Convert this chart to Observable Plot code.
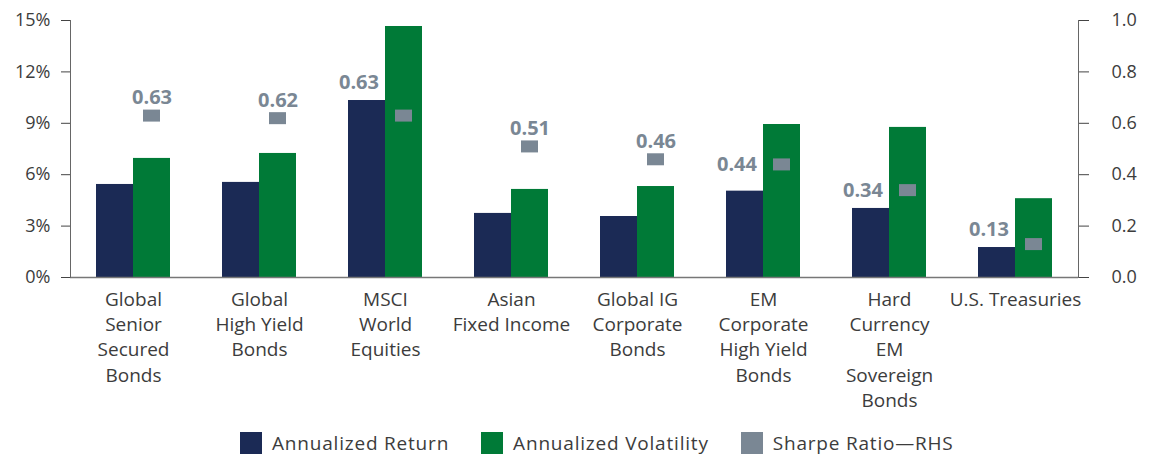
<!DOCTYPE html>
<html>
<head>
<meta charset="utf-8">
<script src="https://cdn.jsdelivr.net/npm/d3@7"></script>
<script src="https://cdn.jsdelivr.net/npm/@observablehq/plot@0.6"></script>
<style>
  html, body { margin: 0; padding: 0; background: #fff; overflow: hidden; }
  body { width: 1149px; height: 455px; font-family: "Open Sans", sans-serif; }
  #legend { display: flex; justify-content: flex-start; align-items: center; gap: 32px; margin-top: 15px; padding-left: 240px; font-size: 19px; letter-spacing: 0.8px; color: #3c3c3c; }
  .item { display: flex; align-items: center; gap: 10px; }
  .sw { width: 22px; height: 22px; display: inline-block; }
</style>
</head>
<body>
<div id="chart"></div>
<div id="legend"></div>
<script>
const categories = [
  "Global\nSenior\nSecured\nBonds",
  "Global\nHigh Yield\nBonds",
  "MSCI\nWorld\nEquities",
  "Asian\nFixed Income",
  "Global IG\nCorporate\nBonds",
  "EM\nCorporate\nHigh Yield\nBonds",
  "Hard\nCurrency\nEM\nSovereign\nBonds",
  "U.S. Treasuries"
];
const annualizedReturn = [5.43, 5.55, 10.33, 3.74, 3.56, 5.04, 4.03, 1.75];
const annualizedVolatility = [6.95, 7.24, 14.65, 5.14, 5.31, 8.93, 8.76, 4.6];
const sharpeRatio = [0.63, 0.62, 0.63, 0.51, 0.46, 0.44, 0.34, 0.13];
const seriesNames = ["Annualized Return", "Annualized Volatility", "Sharpe Ratio\u2014RHS"];
const seriesColors = ["#1b2a55", "#007a37", "#7a8794"];
const leftTicks = [0, 3, 6, 9, 12, 15];
const rightTicks = [0, 0.2, 0.4, 0.6, 0.8, 1.0];
const leftMax = 15, rightMax = 1.0;
const k = leftMax / rightMax;

const bars = categories.flatMap((c, i) => [
  {category: c, series: seriesNames[0], value: annualizedReturn[i]},
  {category: c, series: seriesNames[1], value: annualizedVolatility[i]}
]);
const sharpe = categories.map((c, i) => ({
  category: c, sharpe: sharpeRatio[i], ret: annualizedReturn[i], vol: annualizedVolatility[i],
  above: sharpeRatio[i] * k > annualizedVolatility[i]
}));

const axisColor = "#3c3c3c";
const chart = Plot.plot({
  width: 1149, height: 415,
  marginLeft: 67, marginRight: 69, marginTop: 20, marginBottom: 138,
  style: {fontFamily: "'Open Sans', sans-serif", fontSize: "18px", color: axisColor, background: "#fff"},
  fx: {domain: categories, padding: 0, label: null},
  x: {domain: seriesNames.slice(0, 2), paddingInner: 0, paddingOuter: 0.666, axis: null},
  y: {domain: [0, leftMax], axis: null},
  color: {domain: seriesNames, range: seriesColors},
  marks: [
    Plot.barY(bars, {fx: "category", x: "series", y: "value", fill: "series"}),
    Plot.tickY(sharpe, {fx: "category", x: () => seriesNames[1], y: d => d.sharpe * k, stroke: seriesColors[2], strokeWidth: 12, insetLeft: 10, insetRight: 10}),
    Plot.text(sharpe.filter(d => d.above), {fx: "category", x: () => seriesNames[1], y: d => d.sharpe * k, text: d => d.sharpe.toFixed(2), dy: -18, fill: seriesColors[2], fontWeight: "bold", fontSize: 20, letterSpacing: "1px"}),
    Plot.text(sharpe.filter(d => !d.above), {fx: "category", x: () => seriesNames[1], y: d => Math.max(d.sharpe * k, d.ret + 1.05), text: d => d.sharpe.toFixed(2), dx: -25, textAnchor: "end", fill: seriesColors[2], fontWeight: "bold", fontSize: 20, letterSpacing: "1px"}),
    Plot.ruleY([0], {stroke: "#777", strokeWidth: 1.5}),
    Plot.frame({anchor: "left", facetAnchor: "left", stroke: "#666"}),
    Plot.frame({anchor: "right", facetAnchor: "right", stroke: "#666"}),
    Plot.axisY({anchor: "left", label: null, ticks: leftTicks, tickFormat: d => d + "%", tickSize: 9, tickPadding: 11, stroke: "#444", fill: axisColor, fontSize: 18}),
    Plot.axisY({anchor: "right", label: null, ticks: rightTicks.map(v => v * k), tickFormat: v => (v / k).toFixed(1), tickSize: 10, tickPadding: 23, stroke: "#444", fill: axisColor, fontSize: 18}),
    Plot.axisFx({anchor: "bottom", tickSize: 0, tickPadding: 10, lineHeight: 1.34, fill: axisColor, fontSize: 19, letterSpacing: "0.8px", label: null})
  ]
});
document.getElementById("chart").appendChild(chart);

const legend = document.getElementById("legend");
seriesNames.forEach((n, i) => {
  const item = document.createElement("div");
  item.className = "item";
  const sw = document.createElement("span");
  sw.className = "sw";
  sw.style.background = seriesColors[i];
  const t = document.createElement("span");
  t.textContent = n;
  item.appendChild(sw); item.appendChild(t);
  legend.appendChild(item);
});
</script>
</body>
</html>
